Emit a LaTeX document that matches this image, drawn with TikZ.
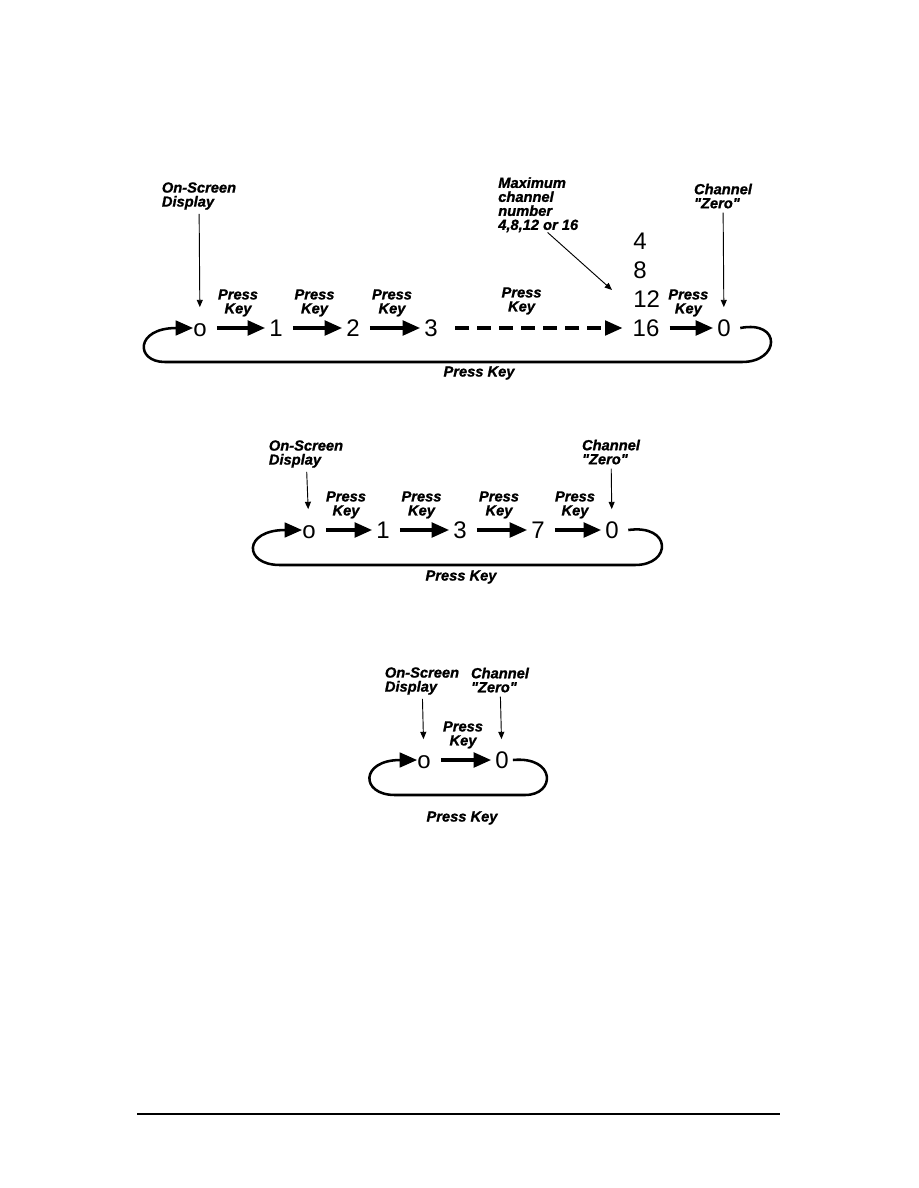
\documentclass[tikz,border=0pt]{standalone}
\usepackage{fontspec}
\setmainfont{Liberation Sans}
\newfontfamily\lblfont{Liberation Sans}[BoldItalicFeatures={FakeBold=1.2}]
\newcommand{\dq}{{\char34}}
\usetikzlibrary{arrows.meta, positioning}

\begin{document}
\begin{tikzpicture}[
      x=0.75pt, y=-0.75pt,
      num/.style={inner sep=0pt, text height=12.9pt, text depth=0pt, font=\fontsize{18}{18}\selectfont},
      lbl/.style={inner sep=0pt, align=left, font=\lblfont\fontsize{11}{10.5}\selectfont\bfseries\itshape},
      klbl/.style={lbl, align=center},
      adv/.style={-{Triangle[length=13pt, width=11pt]}, line width=2.3pt, shorten <=7.5pt, shorten >=3pt},
      ptr/.style={-{Triangle[length=5.5pt, width=4.5pt]}, line width=0.7pt, shorten <=3pt, shorten >=9pt},
      back/.style={-{Triangle[length=13pt, width=11pt]}, line width=1.9pt}
    ]
    \useasboundingbox (0,0) rectangle (918,1188);

    % ---- Diagram 1: 0 -> 1 -> 2 -> 3 - - -> 16 -> 0 ----
    \node[num] (o1)  at (200,328) {o};
    \node[num] (a1)  at (276,328) {1};
    \node[num] (b1)  at (353,328) {2};
    \node[num] (c1)  at (431,328) {3};
    \node[num] (m16) at (646,328) {16};
    \node[num, anchor=west] (m12) at (633,299) {12};
    \node[num, anchor=west] (m8)  at (633,270) {8};
    \node[num, anchor=west] (m4)  at (633,241) {4};
    \node[num] (z1)  at (724,328) {0};

    \node[lbl] (osd1) at (199,196) {On-Screen\\Display};
    \node[lbl] (chz1) at (723,196) {Channel\\\dq Zero\dq};
    \node[lbl, anchor=north west] (max1) at (498,177) {Maximum\\channel\\number\\4,8,12 or 16};

    \draw[adv] (o1) -- node[klbl, above=7.5pt]{Press\\Key} (a1);
    \draw[adv] (a1) -- node[klbl, above=7.5pt]{Press\\Key} (b1);
    \draw[adv] (b1) -- node[klbl, above=7.5pt]{Press\\Key} (c1);
    \draw[adv, dash pattern=on 10.5pt off 6pt, shorten <=13pt, shorten >=7.5pt]
      (c1) -- node[klbl, above=9pt, pos=0.43]{Press\\Key} (m16);
    \draw[adv] (m16) -- node[klbl, above=7.5pt]{Press\\Key} (z1);

    \draw[ptr] (osd1) -- (o1);
    \draw[ptr] (chz1) -- (z1);
    \draw[ptr, shorten <=0pt, shorten >=0pt] ([xshift=7pt]max1.south) -- ([xshift=-15.75pt, yshift=6.75pt]m12.west);

    % retour vers o
    \draw[back] ([xshift=7pt]z1.east) .. controls (782,320) and (780,362) .. (742,362)
      -- (165,362) .. controls (135,362) and (135,328) .. (o1.west);
    \node[lbl] (pk1) at (479,373) {Press Key};

    % ---- Diagram 2: 0 -> 1 -> 3 -> 7 -> 0 ----
    \node[num] (o2) at (309,530) {o};
    \node[num] (a2) at (383,530) {1};
    \node[num] (b2) at (460,530) {3};
    \node[num] (c2) at (538,530) {7};
    \node[num] (z2) at (612,530) {0};

    \node[lbl] (osd2) at (306,454) {On-Screen\\Display};
    \node[lbl] (chz2) at (611,452) {Channel\\\dq Zero\dq};

    \draw[adv] (o2) -- node[klbl, above=7.5pt]{Press\\Key} (a2);
    \draw[adv] (a2) -- node[klbl, above=7.5pt]{Press\\Key} (b2);
    \draw[adv] (b2) -- node[klbl, above=7.5pt]{Press\\Key} (c2);
    \draw[adv] (c2) -- node[klbl, above=7.5pt]{Press\\Key} (z2);

    \draw[ptr] (osd2) -- (o2);
    \draw[ptr] (chz2) -- (z2);

    \draw[back] ([xshift=7pt]z2.east) .. controls (672,524) and (672,565) .. (635,565)
      -- (280,565) .. controls (243,565) and (243,530) .. (o2.west);
    \node[lbl] (pk2) at (461,577) {Press Key};

    % ---- Diagram 3: 0 -> 0 ----
    \node[num] (o3) at (424,760) {o};
    \node[num] (z3) at (502,760) {0};

    \node[lbl] (osd3) at (422,681) {On-Screen\\Display};
    \node[lbl] (chz3) at (500,680) {Channel\\\dq Zero\dq};

    \draw[adv] (o3) -- node[klbl, above=7.5pt]{Press\\Key} (z3);

    \draw[ptr] (osd3) -- (o3);
    \draw[ptr] (chz3) -- (z3);

    \draw[back] ([xshift=3pt]z3.east) .. controls (556,756) and (556,795) .. (525,795)
      -- (395,795) .. controls (360,795) and (360,760) .. (o3.west);
    \node[lbl] (pk3) at (462,818) {Press Key};

    % ---- page rule ----
    \draw[line width=1pt] (137,1114) -- (780,1114);

\end{tikzpicture}
\end{document}
